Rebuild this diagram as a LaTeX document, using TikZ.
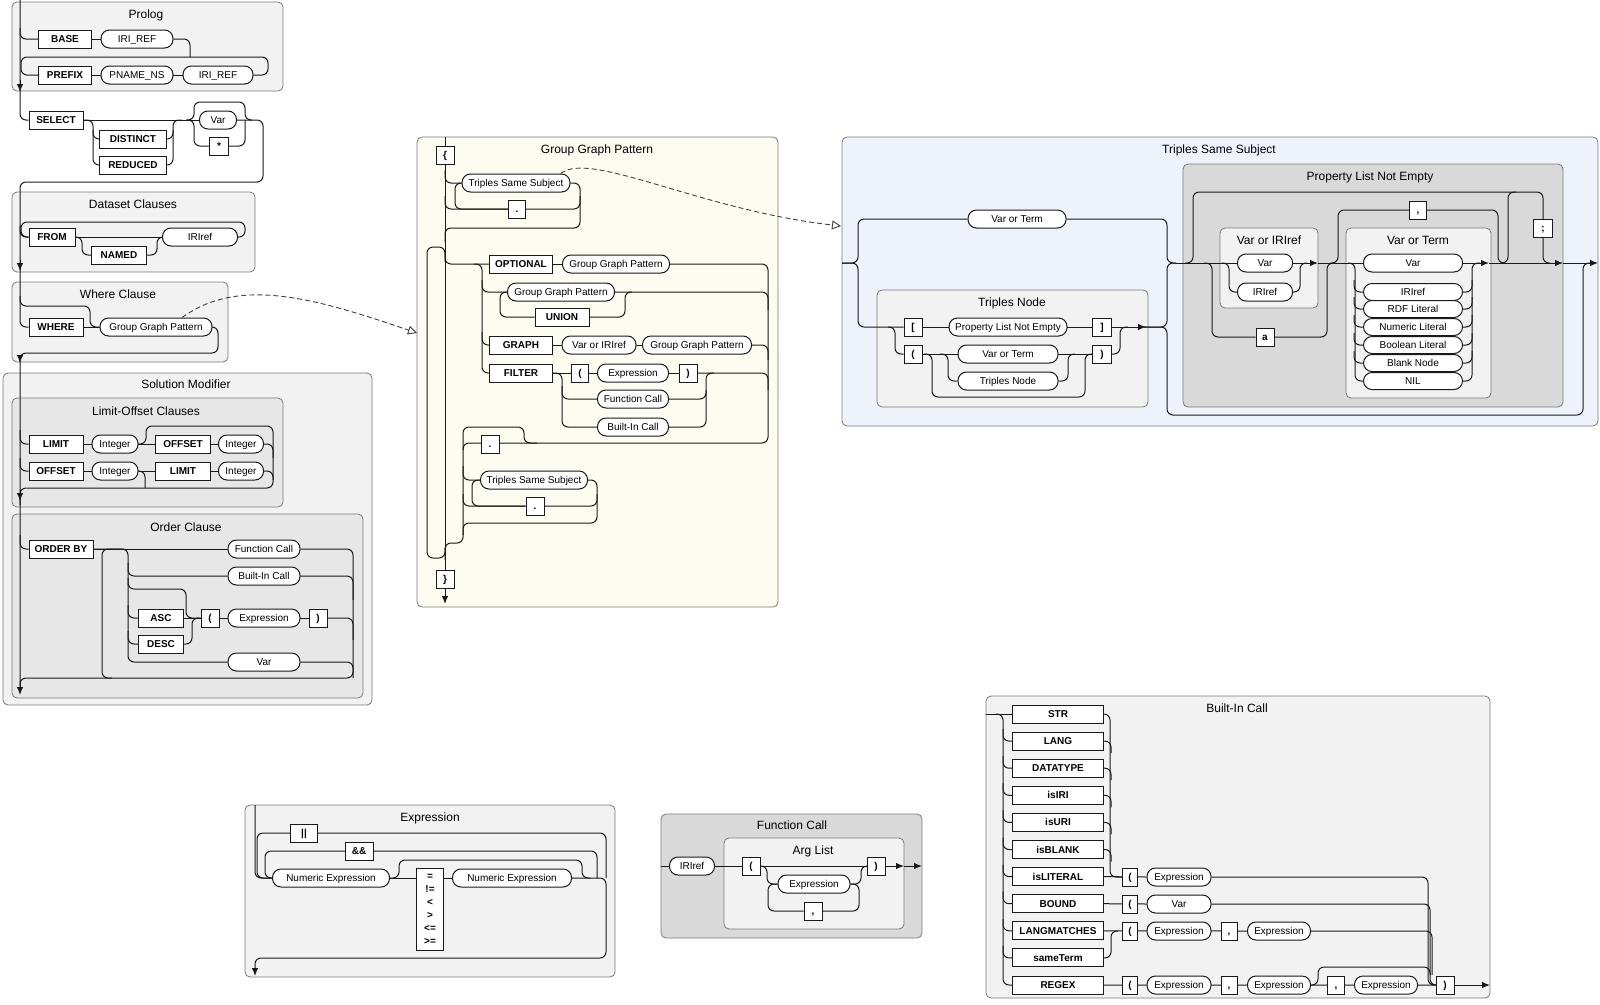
\documentclass[tikz,border=0pt]{standalone}
\usepackage{fontspec}
\setmainfont{Liberation Sans}
\usetikzlibrary{arrows.meta}
\definecolor{framegray}{HTML}{7A7A7A}
\definecolor{paneldefault}{HTML}{F2F2F2}
\definecolor{panelinner}{HTML}{E7E7E7}
\definecolor{paneldark}{HTML}{D9D9D9}
\definecolor{panelcream}{HTML}{FCFCF1}
\definecolor{panelblue}{HTML}{EEF3FB}
\definecolor{railink}{HTML}{1A1A1A}
\pgfdeclarelayer{background}
\pgfdeclarelayer{rails}
\pgfsetlayers{background,rails,main}

\begin{document}
\begin{tikzpicture}[x=1pt, y=-1pt,
    panel/.style={draw=framegray, line width=0.8pt, rounded corners=5pt,
      fill=paneldefault},
    paneltitle/.style={font=\fontsize{12}{14}\selectfont, inner sep=0pt},
    boxed/.style={draw=railink, line width=1pt, fill=white, inner sep=1pt},
    term/.style={boxed, minimum height=18pt, text height=7.5pt,
      text depth=0.5pt, font=\bfseries\fontsize{10}{12}\selectfont},
    nonterm/.style={term, rounded corners=8.5pt,
      font=\fontsize{10}{12}\selectfont},
    rail/.style={draw=railink, line width=1pt, rounded corners=6pt},
    flow/.style={rail, -{Latex[length=8pt, width=6.5pt]}},
    ref/.style={draw=black!75, line width=0.9pt, dash pattern=on 5pt off 3pt,
      -{Triangle[open, length=9pt, width=9pt]}},
]
\useasboundingbox (0,0) rectangle (1600,1004);
% Panels
\begin{pgfonlayer}{background}
\fill[white] (0,0) rectangle (1600,1004);
\draw[panel] (12,2) rectangle (283,91);
\draw[panel] (12,192) rectangle (255,272);
\draw[panel] (12,282) rectangle (228,362);
\draw[panel] (3,373) rectangle (372,705);
\draw[panel, fill=panelinner] (12,398) rectangle (283,507);
\draw[panel, fill=panelinner] (12,514) rectangle (363,698);
\draw[panel, fill=panelcream] (417,137) rectangle (778,607);
\draw[panel, fill=panelblue] (842,137) rectangle (1598,426);
\draw[panel] (877,290) rectangle (1148,407);
\draw[panel, fill=paneldark] (1183,164) rectangle (1563,407);
\draw[panel] (1220,228) rectangle (1318,308);
\draw[panel] (1346,228) rectangle (1491,398);
\draw[panel] (245,805) rectangle (615,977);
\draw[panel, fill=paneldark] (661,814) rectangle (922,938);
\draw[panel] (724,838) rectangle (904,929);
\draw[panel] (986,696) rectangle (1490,998);
\end{pgfonlayer}

% Nodes
\node[paneltitle] (prologT) at (146,15) {Prolog};
\node[term, minimum width=53] (base) at (65,39) {BASE};
\node[nonterm, minimum width=72] (baseIri) at (137,39) {IRI\_REF};
\node[term, minimum width=53] (prefix) at (65,75) {PREFIX};
\node[nonterm, minimum width=72] (pnameNs) at (137,75) {PNAME\_NS};
\node[nonterm, minimum width=70] (prefixIri) at (218,75) {IRI\_REF};

\node[term, minimum width=54] (select) at (56,120) {SELECT};
\node[term, minimum width=67] (distinct) at (133,139) {DISTINCT};
\node[term, minimum width=67] (reduced) at (133,165) {REDUCED};
\node[nonterm, minimum width=37] (selVar) at (218,120) {Var};
\node[term, minimum width=19] (selStar) at (219,146) {*};

\node[paneltitle] (datasetT) at (133,204) {Dataset Clauses};
\node[term, minimum width=46] (from) at (52,237) {FROM};
\node[term, minimum width=55] (named) at (119,255) {NAMED};
\node[nonterm, minimum width=75] (fromIri) at (200,237) {IRIref};

\node[paneltitle] (whereT) at (118,294) {Where Clause};
\node[term, minimum width=54] (where) at (56,327) {WHERE};
\node[nonterm, minimum width=112] (whereGgp) at (156,327) {Group Graph Pattern};

\node[paneltitle] (solutionT) at (186,384) {Solution Modifier};
\node[paneltitle] (limoffT) at (146,411) {Limit-Offset Clauses};
\node[term, minimum width=54] (limitA) at (56,444) {LIMIT};
\node[nonterm, minimum width=46] (intA) at (115,444) {Integer};
\node[term, minimum width=55] (offsetA) at (183,444) {OFFSET};
\node[nonterm, minimum width=45] (intB) at (241,444) {Integer};
\node[term, minimum width=54] (offsetB) at (56,471) {OFFSET};
\node[nonterm, minimum width=46] (intC) at (115,471) {Integer};
\node[term, minimum width=55] (limitB) at (183,471) {LIMIT};
\node[nonterm, minimum width=45] (intD) at (241,471) {Integer};

\node[paneltitle] (orderT) at (186,527) {Order Clause};
\node[term, minimum width=64] (orderBy) at (61,549) {ORDER BY};
\node[nonterm, minimum width=72] (orderFcall) at (264,549) {Function Call};
\node[nonterm, minimum width=72] (orderBcall) at (264,576) {Built-In Call};
\node[term, minimum width=45] (asc) at (161,618) {ASC};
\node[term, minimum width=45] (desc) at (161,644) {DESC};
\node[term, minimum width=18] (orderLpar) at (210,618) {(};
\node[nonterm, minimum width=72] (orderExpr) at (264,618) {Expression};
\node[term, minimum width=18] (orderRpar) at (318,618) {)};
\node[nonterm, minimum width=72] (orderVar) at (264,662) {Var};

\node[paneltitle] (ggpT) at (597,150) {Group Graph Pattern};
\node[term, minimum width=18] (ggpOpen) at (445,155) {\{};
\node[nonterm, minimum width=108] (tssA) at (516,183) {Triples Same Subject};
\node[term, minimum width=17] (dotA) at (517,209) {.};
\node[term, minimum width=63] (optional) at (521,264) {OPTIONAL};
\node[nonterm, minimum width=107] (optGgp) at (616,264) {Group Graph Pattern};
\node[nonterm, minimum width=107] (unionGgp) at (561,292) {Group Graph Pattern};
\node[term, minimum width=54] (union) at (562,317) {UNION};
\node[term, minimum width=63] (graph) at (521,345) {GRAPH};
\node[nonterm, minimum width=74] (graphVoi) at (599,345) {Var or IRIref};
\node[nonterm, minimum width=109] (graphGgp) at (697,345) {Group Graph Pattern};
\node[term, minimum width=63] (filter) at (521,373) {FILTER};
\node[term, minimum width=17] (filterLpar) at (580,373) {(};
\node[nonterm, minimum width=71] (filterExpr) at (633,373) {Expression};
\node[term, minimum width=18] (filterRpar) at (688,373) {)};
\node[nonterm, minimum width=71] (filterFcall) at (633,399) {Function Call};
\node[nonterm, minimum width=71] (filterBcall) at (633,427) {Built-In Call};
\node[term, minimum width=18] (dotB) at (490,444) {.};
\node[nonterm, minimum width=107] (tssB) at (534,480) {Triples Same Subject};
\node[term, minimum width=18] (dotC) at (535,506) {.};
\node[term, minimum width=18] (ggpClose) at (445,579) {\}};
\coordinate (ggpIn) at (417,333);

\node[paneltitle] (tssT) at (1219,150) {Triples Same Subject};
\coordinate (tssIn) at (841,226);
\node[nonterm, minimum width=98] (subjVot) at (1017,219) {Var or Term};
\node[paneltitle] (tnT) at (1012,303) {Triples Node};
\node[term, minimum width=18] (lbrk) at (913,327) {[};
\node[nonterm, minimum width=118] (tnPlne) at (1008,327) {Property List Not Empty};
\node[term, minimum width=19] (rbrk) at (1102,327) {]};
\node[term, minimum width=18] (tnLpar) at (913,354) {(};
\node[nonterm, minimum width=100] (tnVot) at (1008,354) {Var or Term};
\node[term, minimum width=19] (tnRpar) at (1102,354) {)};
\node[nonterm, minimum width=100] (tnTn) at (1008,381) {Triples Node};
\node[paneltitle] (plneT) at (1370,177) {Property List Not Empty};
\node[paneltitle] (voiT) at (1269,240) {Var or IRIref};
\node[nonterm, minimum width=55] (voiVar) at (1265,263) {Var};
\node[nonterm, minimum width=55] (voiIri) at (1265,292) {IRIref};
\node[term, minimum width=18] (aKw) at (1265,337) {a};
\node[paneltitle] (votT) at (1418,240) {Var or Term};
\node[term, minimum width=17] (commaObj) at (1418,210) {,};
\node[term, minimum width=19] (semi) at (1543,228) {;};
\node[nonterm, minimum width=99] (votVar) at (1413,263) {Var};
\foreach \nm/\txt/\y in {votIri/IRIref/292, votRdf/RDF Literal/309,
    votNum/Numeric Literal/327, votBool/Boolean Literal/345,
    votBlank/Blank Node/363, votNil/NIL/381}
  \node[nonterm, minimum width=99, minimum height=17pt] (\nm) at (1413,\y) {\txt};

\node[paneltitle] (exprT) at (430,818) {Expression};
\node[term, minimum width=27] (orOp) at (304,833) {||};
\node[term, minimum width=28] (andOp) at (359,851) {\&\&};
\node[nonterm, minimum width=117] (numA) at (331,878) {Numeric Expression};
\node[boxed, minimum width=27, minimum height=82pt, align=center,
  font=\bfseries\fontsize{10}{13}\selectfont] (relOp) at (430,909)
  {=\\!=\\<\\>\\<=\\>=};
\node[nonterm, minimum width=119] (numB) at (512,878) {Numeric Expression};

\node[paneltitle] (fcT) at (792,825) {Function Call};
\node[paneltitle] (argT) at (813,851) {Arg List};
\node[nonterm, minimum width=45] (fcIri) at (692,866) {IRIref};
\node[term, minimum width=18] (argLpar) at (751,866) {(};
\node[term, minimum width=18] (argRpar) at (876,866) {)};
\node[nonterm, minimum width=72] (argExpr) at (814,884) {Expression};
\node[term, minimum width=18] (argComma) at (813,911) {,};

\node[paneltitle] (bicT) at (1237,708) {Built-In Call};
\foreach \nm/\txt [count=\i from 0] in {kwStr/STR, kwLang/LANG,
    kwDtype/DATATYPE, kwIsIri/isIRI, kwIsUri/isURI, kwIsBlank/isBLANK,
    kwIsLit/isLITERAL, kwBound/BOUND, kwLangM/LANGMATCHES,
    kwSame/sameTerm, kwRegex/REGEX}
  \node[term, minimum width=91] (\nm) at (1058,{714+27.1*\i}) {\txt};
\node[term, minimum width=15] (litLpar) at (1130,877) {(};
\node[nonterm, minimum width=64] (litExpr) at (1179,877) {Expression};
\node[term, minimum width=15] (boundLpar) at (1130,904) {(};
\node[nonterm, minimum width=64] (boundVar) at (1179,904) {Var};
\node[term, minimum width=15] (lmLpar) at (1130,931) {(};
\node[nonterm, minimum width=64] (lmExprA) at (1179,931) {Expression};
\node[term, minimum width=16] (lmComma) at (1229,931) {,};
\node[nonterm, minimum width=63] (lmExprB) at (1279,931) {Expression};
\node[term, minimum width=15] (rxLpar) at (1130,985) {(};
\node[nonterm, minimum width=64] (rxExprA) at (1179,985) {Expression};
\node[term, minimum width=16] (rxCommaA) at (1229,985) {,};
\node[nonterm, minimum width=63] (rxExprB) at (1279,985) {Expression};
\node[term, minimum width=17] (rxCommaB) at (1336,985) {,};
\node[nonterm, minimum width=63] (rxExprC) at (1386,985) {Expression};
\node[term, minimum width=18] (rxRpar) at (1445,985) {)};

% Rails
\begin{pgfonlayer}{rails}
% query column
\draw[rail] (20,0) |- (select.west);
\draw[flow] (20,80) -- (20,92);
\draw[rail] (20,28) |- (base.west);
\draw[rail] (base.east) -- (baseIri.west);
\draw[rail] (baseIri.east) -| (190,57);
\draw[rail] (prefix.west) -| (21,57) -| (268,75) -- (prefixIri.east);
\draw[rail] (prefix.east) -- (prefixIri.west);
\draw[rail] (select.east) -- (selVar.west);
\draw[rail] (84,120) -| (93,165) -- (reduced.west);
\draw[rail] (93,130) |- (distinct.west);
\draw[rail] (reduced.east) -| (173,120) -- (182,120);
\draw[rail] (distinct.east) -| (173,130);
\draw[rail] (186,120) -| (194,102) -| (245,120) -- (252,120);
\draw[rail] (186,120) -| (194,146) -- (selStar.west);
\draw[rail] (selStar.east) -| (245,120);
\draw[rail] (selVar.east) -| (263,182) -| (20,327) -- (where.west);
\draw[flow] (20,260) -- (20,271);
\draw[rail] (20,226) |- (from.west);
\draw[rail] (from.west) -| (21,222) -| (245,237) -- (fromIri.east);
\draw[rail] (from.east) -- (fromIri.west);
\draw[rail] (from.east) -| (82,255) -- (named.west);
\draw[rail] (named.east) -| (157,237) -- (164,237);
\draw[rail] (20,296) |- (90,306) |- (whereGgp.west);
\draw[rail] (where.east) -- (whereGgp.west);
\draw[rail] (whereGgp.east) -| (218,353) -| (20,686);
\draw[flow] (20,356) -- (20,363);
\draw[rail] (20,430) |- (limitA.west);
\draw[rail] (limitA.west) -- (intB.east);
\draw[rail] (intA.east) -| (146,426) -| (273,488) -| (20,505);
\draw[rail] (intB.east) -| (273,458);
\draw[rail] (20,458) |- (offsetB.west);
\draw[rail] (offsetB.west) -- (intD.east);
\draw[rail] (intD.east) -| (273,480);
\draw[rail] (intC.east) -| (145,488);
\draw[flow] (20,490) -- (20,501);
\draw[rail] (20,535) |- (orderBy.west);
\draw[rail] (orderBy.west) -- (orderFcall.west);
\draw[rail] (orderFcall.east) -| (353,678) -| (20,690);
\draw[rail] (orderBy.east) -| (128,662) -- (orderVar.west);
\draw[rail] (128,563) |- (orderBcall.west);
\draw[rail] (128,578) |- (186,589) |- (orderLpar.west);
\draw[rail] (128,605) |- (asc.west);
\draw[rail] (128,631) |- (desc.west);
\draw[rail] (asc.east) -- (orderLpar.west);
\draw[rail] (desc.east) -| (192,618) -- (orderLpar.west);
\draw[rail] (orderLpar.east) -- (orderRpar.west);
\draw[rail] (orderRpar.east) -| (353,640);
\draw[rail] (orderBcall.east) -| (353,600);
\draw[rail] (orderVar.east) -| (353,678);
\draw[rail] (112,678) -| (102,549) -- (124,549);
\draw[flow] (20,684) -- (20,695);
\draw[ref] (whereGgp.20) .. controls (240,275) and (320,300) .. (ggpIn);
% group graph pattern
\draw[rail] (445,137) -- (445,590);
\draw[flow] (445,590) -- (445,604);
\draw[rail] (445,170) |- (tssA.west);
\draw[rail] (tssA.west) -| (455,209) -- (dotA.west);
\draw[rail] (445,196) |- (dotA.west);
\draw[rail] (dotA.east) -| (580,196);
\draw[rail] (tssA.east) -| (580,228) -| (445,242);
\draw[rail] (445,262) |- (427,247) |- (445,558) -- (445,548);
\draw[rail] (445,250) |- (optional.west);
\draw[rail] (optional.east) -- (optGgp.west);
\draw[rail] (474,264) -| (482,373) -- (filter.west);
\draw[rail] (482,280) |- (unionGgp.west);
\draw[rail] (482,332) |- (graph.west);
\draw[rail] (graph.east) -- (graphGgp.west);
\draw[rail] (union.west) -| (500,292) -- (unionGgp.west);
\draw[rail] (union.east) -| (625,292) -- (632,292);
\draw[rail] (unionGgp.east) -| (768,310);
\draw[rail] (graphGgp.east) -| (768,360);
\draw[rail] (filter.east) -- (filterRpar.west);
\draw[rail] (filterRpar.east) -| (768,390);
\draw[rail] (filter.east) -| (562,427) -- (filterBcall.west);
\draw[rail] (562,386) |- (filterFcall.west);
\draw[rail] (filterBcall.east) -| (706,373) -- (714,373);
\draw[rail] (filterFcall.east) -| (706,390);
\draw[rail] (optGgp.east) -| (768,443) -| (463,543) -| (445,560);
\draw[rail] (537,443) -| (524,427) -| (463,450);
\draw[rail] (463,466) |- (tssB.west);
\draw[rail] (tssB.west) -| (472,506) -- (dotC.west);
\draw[rail] (463,494) |- (dotC.west);
\draw[rail] (dotC.east) -| (597,494);
\draw[rail] (tssB.east) -| (597,523) -| (463,535);
\draw[ref] (tssA.12) .. controls (590,150) and (700,210) .. (tssIn);
% triples same subject
\draw[rail] (842,263) -| (858,219) -- (subjVot.west);
\draw[rail] (842,263) -| (858,327) -- (lbrk.west);
\draw[rail] (subjVot.east) -| (1167,263) -- (1176,263);
\draw[rail] (lbrk.east) -- (rbrk.west);
\draw[flow] (rbrk.east) -- (1146,327);
\draw[rail] (1144,327) -| (1167,263) -- (1176,263);
\draw[rail] (1144,327) -| (1167,415) -| (1583,263) -- (1590,263);
\draw[rail] (888,327) -| (895,354) -- (tnLpar.west);
\draw[rail] (tnLpar.east) -- (tnRpar.west);
\draw[rail] (tnRpar.east) -| (1120,327) -- (1128,327);
\draw[rail] (924,354) -| (932,397) -| (1085,354) -- (1093,354);
\draw[rail] (940,354) -| (948,381) -- (tnTn.west);
\draw[rail] (tnTn.east) -| (1068,354) -- (1075,354);
\draw[rail] (1176,263) -- (voiVar.west);
\draw[flow] (voiVar.east) -- (1318,263);
\draw[rail] (1318,263) -- (votVar.west);
\draw[flow] (votVar.east) -- (1489,263);
\draw[flow] (1489,263) -- (1563,263);
\draw[flow] (1563,263) -- (1598,263);
\draw[rail] (1222,263) -| (1229,292) -- (voiIri.west);
\draw[rail] (voiIri.east) -| (1300,263) -- (1307,263);
\draw[rail] (1204,263) -| (1212,337) -- (aKw.west);
\draw[rail] (aKw.east) -| (1327,263) -- (1334,263);
\draw[rail] (1185,263) -| (1193,192) -| (1543,263) -- (1550,263);
\draw[rail] (1500,263) -| (1508,192) -- (1516,192);
\draw[rail] (1330,263) -| (1338,210) -| (1498,263) -- (1505,263);
\draw[rail] (1348,263) -| (1355,381) -- (votNil.west);
\draw[rail] (votNil.east) -| (1472,263) -- (1480,263);
\foreach \k in {votIri, votRdf, votNum, votBool, votBlank} {
  \draw[rail] (\k.west) -| +(-9,-12);
  \draw[rail] (\k.east) -| +(9,-12);
}
% expression
\draw[rail] (255,805) |- (numA.west);
\draw[rail] (numA.east) -- (numB.west);
\draw[rail] (numA.east) -| (399,860) -| (582,878) -- (590,878);
\draw[rail] (numA.west) -| (265,851) -| (597,878);
\draw[rail] (numA.west) -| (257,833) -| (606,878);
\draw[flow] (numB.east) -| (606,958) -| (255,976);
% function call
\draw[rail] (661,866) -- (fcIri.west);
\draw[rail] (fcIri.east) -- (argRpar.west);
\draw[flow] (argRpar.east) -- (904,866);
\draw[flow] (904,866) -- (922,866);
\draw[rail] (760,866) -| (767,884) -- (argExpr.west);
\draw[rail] (argExpr.east) -| (861,866) -- (868,866);
\draw[rail] (argExpr.west) -| (768,911) -- (argComma.west);
\draw[rail] (argComma.east) -| (859,884) -- (argExpr.east);
% built-in call
\draw[rail] (986,714) -- (kwStr.west);
\draw[rail] (996,714) -| (1003,985) -- (kwRegex.west);
\foreach \k in {kwLang, kwDtype, kwIsIri, kwIsUri, kwIsBlank, kwIsLit,
    kwBound, kwLangM, kwSame}
  \draw[rail] (\k.west) -| +(-9,-12);
\draw[rail] (kwStr.east) -| (1110,877) -- (litLpar.west);
\foreach \k in {kwLang, kwDtype, kwIsIri, kwIsUri, kwIsBlank}
  \draw[rail] (\k.east) -| +(7,12);
\draw[rail] (kwIsLit.east) -- (litExpr.west);
\draw[rail] (litExpr.east) -| (1428,985) -- (rxRpar.west);
\draw[rail] (kwBound.east) -- (boundVar.west);
\draw[rail] (boundVar.east) -| (1430,975);
\draw[rail] (kwLangM.east) -- (lmExprB.west);
\draw[rail] (lmExprB.east) -| (1432,975);
\draw[rail] (kwSame.east) -| (1111,931) -- (1118,931);
\draw[rail] (kwRegex.east) -- (rxRpar.west);
\draw[rail] (rxExprB.east) -| (1318,967) -| (1430,985) -- (rxRpar.west);
\draw[flow] (rxRpar.east) -- (1490,985);
\end{pgfonlayer}
\end{tikzpicture}
\end{document}
